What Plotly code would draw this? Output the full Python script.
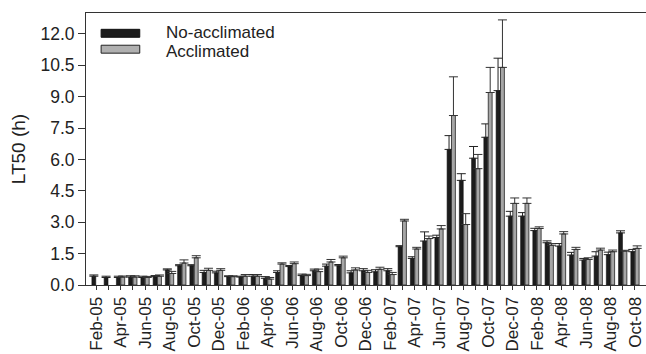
import plotly.graph_objects as go

months = ["Feb-05","Mar-05","Apr-05","May-05","Jun-05","Jul-05","Aug-05","Sep-05","Oct-05","Nov-05","Dec-05",
          "Jan-06","Feb-06","Mar-06","Apr-06","May-06","Jun-06","Jul-06","Aug-06","Sep-06","Oct-06","Nov-06","Dec-06",
          "Jan-07","Feb-07","Mar-07","Apr-07","May-07","Jun-07","Jul-07","Aug-07","Sep-07","Oct-07","Nov-07","Dec-07",
          "Jan-08","Feb-08","Mar-08","Apr-08","May-08","Jun-08","Jul-08","Aug-08","Sep-08","Oct-08"]

tick_labels = ["Feb-05","Apr-05","Jun-05","Aug-05","Oct-05","Dec-05","Feb-06","Apr-06","Jun-06","Aug-06",
               "Oct-06","Dec-06","Feb-07","Apr-07","Jun-07","Aug-07","Oct-07","Dec-07","Feb-08","Apr-08",
               "Jun-08","Aug-08","Oct-08"]

no_acclimated = [0.42,0.36,0.36,0.38,0.36,0.40,0.72,0.92,0.92,0.60,0.58,
                 0.40,0.38,0.42,0.32,0.60,0.88,0.45,0.68,0.90,0.92,0.58,0.68,
                 0.63,0.68,1.83,1.27,2.10,2.27,6.48,5.00,6.06,7.06,9.29,3.29,
                 3.29,2.60,2.02,1.86,1.43,1.19,1.38,1.45,2.49,1.59]
no_acclimated_err = [0.06,0.06,0.06,0.06,0.06,0.05,0.05,0.05,0.05,0.10,0.08,
                     0.04,0.04,0.08,0.08,0.08,0.05,0.07,0.08,0.10,0.06,0.10,0.10,
                     0.10,0.10,0.05,0.08,0.44,0.11,0.66,0.32,0.56,0.64,1.55,0.23,
                     0.17,0.11,0.09,0.12,0.13,0.08,0.21,0.12,0.10,0.11]
acclimated = [None,None,0.38,0.38,0.36,0.42,0.55,1.05,1.30,0.70,0.70,
              0.40,0.42,0.42,0.28,1.00,1.02,0.45,0.64,1.10,1.30,0.72,0.60,
              0.75,0.50,3.06,1.72,2.22,2.68,8.10,2.89,5.56,9.20,10.40,3.90,
              3.90,2.70,1.90,2.44,1.70,1.22,1.67,1.59,1.62,1.75]
acclimated_err = [0,0,0.05,0.06,0.05,0.06,0.10,0.15,0.10,0.10,0.08,
                  0.04,0.08,0.08,0.08,0.06,0.08,0.06,0.12,0.12,0.08,0.10,0.10,
                  0.10,0.10,0.08,0.08,0.12,0.16,1.85,0.52,0.68,1.20,2.27,0.26,
                  0.26,0.08,0.08,0.11,0.10,0.08,0.09,0.08,0.04,0.12]

x_idx = list(range(len(months)))
tickvals = x_idx
ticktext = [m if m in tick_labels else "" for m in months]

FONT = "Liberation Sans, Arial, sans-serif"

fig = go.Figure()
fig.add_trace(go.Bar(
    x=x_idx, y=no_acclimated, name="No-acclimated",
    marker=dict(color="#1c1c1c", line=dict(color="#111111", width=0.6)),
    error_y=dict(type="data", symmetric=False, array=no_acclimated_err,
                 arrayminus=[0]*len(months), color="#222222", thickness=1, width=4.5),
))
fig.add_trace(go.Bar(
    x=x_idx, y=acclimated, name="Acclimated",
    marker=dict(color="#a6a6a6", line=dict(color="#222222", width=0.8)),
    error_y=dict(type="data", symmetric=False, array=acclimated_err,
                 arrayminus=[0]*len(months), color="#333333", thickness=1, width=4.5),
))

fig.update_layout(
    width=646, height=354,
    margin=dict(l=86, r=0, t=13, b=69),
    paper_bgcolor="white", plot_bgcolor="white",
    barmode="group", bargap=0.28, bargroupgap=0.12,
    showlegend=False,
    font=dict(family=FONT, size=17, color="#222222"),
)
fig.update_xaxes(
    range=[-0.82, 44.9], tickmode="array", tickvals=tickvals, ticktext=ticktext,
    tickangle=-90, ticks="outside", ticklen=4, tickcolor="#333333",
    showline=True, linecolor="#333333", linewidth=1, mirror=True,
    showgrid=False, zeroline=False, tickfont=dict(size=17), automargin=False,
)
yt = [0, 1.5, 3, 4.5, 6, 7.5, 9, 10.5, 12]
fig.update_yaxes(
    range=[0, 13], tickmode="array", tickvals=yt, ticktext=[f"{v:.1f}" for v in yt],
    ticks="outside", ticklen=7, tickcolor="#333333",
    showline=True, linecolor="#333333", linewidth=1,
    showgrid=False, zeroline=False, tickfont=dict(size=17.5), automargin=False,
)

# y-axis title
fig.add_annotation(text="LT50 (h)", xref="paper", yref="paper", x=-0.121, y=0.5,
                   xanchor="center", yanchor="middle", textangle=-90, showarrow=False,
                   font=dict(size=19, family=FONT, color="#222222"))

# legend drawn as wide swatches
fig.add_shape(type="rect", xref="paper", yref="y", x0=0.027, x1=0.096, y0=11.84, y1=12.22,
              fillcolor="#1c1c1c", line=dict(color="#111111", width=1))
fig.add_shape(type="rect", xref="paper", yref="y", x0=0.027, x1=0.096, y0=11.08, y1=11.46,
              fillcolor="#b0b0b0", line=dict(color="#222222", width=1))
fig.add_annotation(text="No-acclimated", xref="paper", yref="y", x=0.139, y=12.07,
                   xanchor="left", yanchor="middle", showarrow=False, font=dict(size=17))
fig.add_annotation(text="Acclimated", xref="paper", yref="y", x=0.139, y=11.15,
                   xanchor="left", yanchor="middle", showarrow=False, font=dict(size=17))

fig.write_html("out.html", config={"displayModeBar": False},
               post_script="document.body.style.margin='0px';document.body.style.overflow='hidden';")
